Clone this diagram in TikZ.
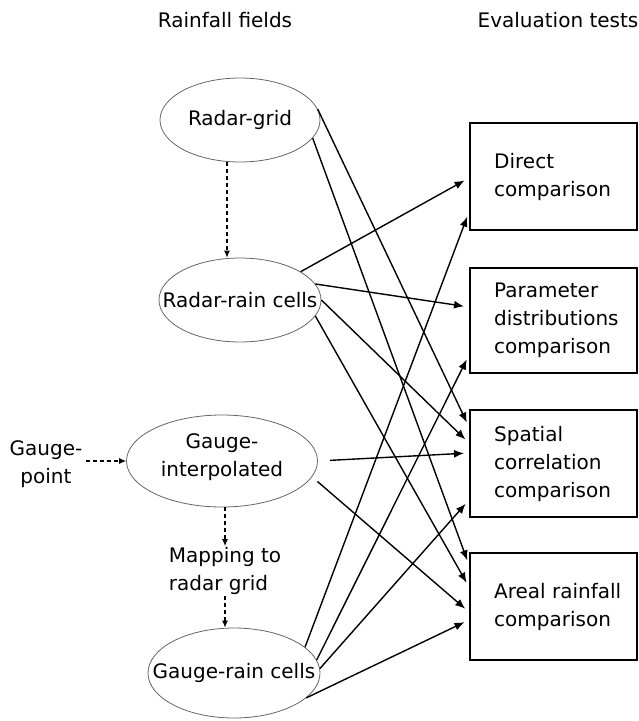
\documentclass[tikz,border=0pt]{standalone}
\usepackage{fontspec}
\setmainfont{DejaVu Sans}
\usetikzlibrary{shapes.geometric,arrows.meta}
\begin{document}
\begin{tikzpicture}[x=1pt,y=-1pt,
  font=\fontsize{20}{28}\selectfont,
  ell/.style={ellipse, draw=black!60, line width=0.8pt, inner sep=0pt},
  tbox/.style={rectangle, draw=black, line width=2pt, minimum width=167pt,
    minimum height=107pt, inner sep=0pt},
  tlab/.style={anchor=west, align=left, xshift=25pt, inner sep=0pt},
  conn/.style={line width=1.4pt, -{Latex[length=10pt,width=8pt]}, shorten >=5pt},
  dasharrow/.style={line width=1.1pt, dash pattern=on 4pt off 3pt, -{Latex[length=7pt,width=6pt]}}]
\useasboundingbox (0,0) rectangle (639,721);

% headers
\node (h1) at (225,20) {Rainfall fields};
\node (h2) at (558,20) {Evaluation tests};

% rainfall fields
\node[ell, minimum width=160pt, minimum height=84pt, label=center:Radar-grid] (rg) at (240,120) {};
\node[ell, minimum width=162pt, minimum height=84pt, label=center:Radar-rain cells] (rr) at (240,300) {};
\node[ell, minimum width=191pt, minimum height=92pt,
  label={[align=center,yshift=4pt]center:{Gauge-\\interpolated}}] (gi) at (222,461) {};
\node[ell, minimum width=172pt, minimum height=90pt, label=center:Gauge-rain cells] (gr) at (234,673) {};
\node[align=center] (gp) at (46,464) {Gauge-\\point};
\node[align=left, inner sep=1pt] (mp) at (225,571) {Mapping to\\radar grid};

% evaluation tests
\node[tbox, label={[tlab]west:{Direct\\comparison}}] (dc) at (553.5,176.5) {};
\node[tbox, minimum height=105pt, label={[tlab]west:{Parameter\\distributions\\comparison}}] (pd) at (553.5,320.5) {};
\node[tbox, label={[tlab]west:{Spatial\\correlation\\comparison}}] (sc) at (553.5,463.5) {};
\node[tbox, label={[tlab]west:{Areal rainfall\\comparison}}] (ar) at (553.5,606.5) {};

% dashed
\draw[dasharrow] ([xshift=-13pt]rg.south) -- ([xshift=-13pt]rr.north);
\draw[dasharrow] ([yshift=3pt]gp.east) -- (gi.west);
\draw[dasharrow] ([xshift=3pt]gi.south) -- (mp.north);
\draw[dasharrow] (mp.south) -- ([xshift=-9pt]gr.north);

% connectors
\draw[conn] (rg.8) -- ([yshift=36.5pt]sc.west);
\draw[conn] (rg.-14) -- ([yshift=41.5pt]ar.west);
\draw[conn] (rr.25) -- ([yshift=-1.5pt]dc.west);
\draw[conn] (rr.12) -- ([yshift=13.5pt]pd.west);
\draw[conn] (rr.0) -- ([yshift=20.5pt]sc.west);
\draw[conn] (rr.-12) -- ([yshift=19.5pt]ar.west);
\draw[conn, shorten <=12pt] (gi.0) -- ([yshift=10.5pt]sc.west);
\draw[conn, shorten <=7pt] (gi.-10) -- ([yshift=-5.5pt]ar.west);
\draw[conn] (gr.20) -- ([yshift=-35.5pt]dc.west);
\draw[conn] (gr.9) -- ([yshift=-34.5pt]pd.west);
\draw[conn] (gr.3) -- ([yshift=-36.5pt]sc.west);
\draw[conn] (gr.-19) -- ([yshift=-13.5pt]ar.west);
\end{tikzpicture}
\end{document}
